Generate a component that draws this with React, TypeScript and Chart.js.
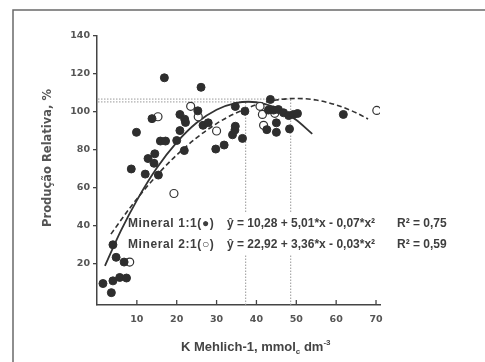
import React, { useEffect, useRef } from "react";
import { Chart, registerables } from "chart.js";

Chart.register(...registerables);

// Axis ticks
const xTickValues = [10, 20, 30, 40, 50, 60, 70];
const yTickValues = [20, 40, 60, 80, 100, 120, 140];

// Mineral 1:1 (filled circles)
const mineral11X = [1.5, 3.6, 4.0, 5.7, 7.4, 4.0, 4.8, 6.8, 8.6, 9.9, 12.1, 15.4, 12.8, 14.5, 14.3, 13.8, 16.9, 15.9, 17.2, 20.0, 21.9, 20.8, 20.8, 22.0, 22.2, 25.3, 26.1, 26.6, 27.9, 29.8, 31.9, 34.0, 34.6, 34.7, 36.5, 34.7, 37.1, 43.5, 43.0, 44.3, 45.5, 46.8, 48.1, 49.3, 50.3, 45.0, 45.0, 42.6, 48.3, 61.8];
const mineral11Y = [9.7, 4.9, 11.1, 12.9, 12.6, 30.1, 23.5, 21.0, 70.0, 89.3, 67.3, 66.8, 75.5, 78.0, 73.0, 96.5, 118.0, 84.7, 84.7, 85.0, 79.7, 90.2, 98.7, 96.2, 94.5, 100.6, 113.0, 93.0, 94.3, 80.5, 82.6, 88.0, 90.5, 92.5, 86.1, 102.9, 100.4, 106.6, 101.0, 101.0, 101.3, 99.6, 98.1, 98.7, 99.2, 94.3, 89.3, 90.7, 91.1, 98.7];

// Mineral 2:1 (open circles)
const mineral21X = [8.2, 15.3, 19.3, 23.5, 25.4, 30.0, 40.9, 41.5, 41.8, 44.6, 70.2];
const mineral21Y = [21.0, 97.5, 57.1, 103.0, 97.5, 90.0, 103.0, 98.7, 93.0, 99.3, 100.8];

// Fitted curves
const fitSolidX = [2, 6, 10, 15, 20, 25, 30, 35, 38, 42, 46, 50, 54];
const fitSolidY = [19.0, 37.5, 53.5, 70.5, 84.0, 94.3, 101.2, 104.8, 105.4, 104.3, 101.1, 95.8, 88.5];
const fitDashX = [3.5, 8, 12, 20, 30, 40, 45, 50, 55, 60, 65, 68];
const fitDashY = [35.7, 48.8, 59.4, 77.4, 93.9, 103.8, 106.3, 107.1, 106.3, 103.7, 99.6, 96.3];

// Dotted reference lines (optimum K and yield)
const refX = [37.3, 48.6];
const refY = [105.3, 106.8];

const eqLine1 = ["Mineral 1:1(\u25CF)", "\u0177 = 10,28 + 5,01*x - 0,07*x\u00B2", "R\u00B2 = 0,75"];
const eqLine2 = ["Mineral 2:1(\u25CB)", "\u0177 = 22,92 + 3,36*x - 0,03*x\u00B2", "R\u00B2 = 0,59"];

const toPoints = (xs: number[], ys: number[]) => xs.map((v, i) => ({ x: v, y: ys[i] }));

const decorPlugin = {
  id: "decor",
  beforeDatasetsDraw(chart: any) {
    const { ctx, scales } = chart;
    const x = scales.x;
    const y = scales.y;
    ctx.save();
    ctx.strokeStyle = "#999";
    ctx.lineWidth = 1;
    ctx.setLineDash([1.5, 1.5]);
    refX.forEach((vx, i) => {
      const px = x.getPixelForValue(vx);
      const py = y.getPixelForValue(refY[i]);
      ctx.beginPath();
      ctx.moveTo(px, y.bottom);
      ctx.lineTo(px, py);
      ctx.stroke();
      ctx.beginPath();
      ctx.moveTo(x.left + 1, py);
      ctx.lineTo(px, py);
      ctx.stroke();
    });
    ctx.setLineDash([]);
    ctx.fillStyle = "#ffffff";
    ctx.fillRect(128, 212, 330, 42);
    ctx.restore();
  },
  afterDatasetsDraw(chart: any) {
    const { ctx, scales } = chart;
    const x = scales.x;
    const y = scales.y;
    ctx.save();
    // inside tick marks on x axis
    ctx.strokeStyle = "#444";
    ctx.lineWidth = 1.3;
    xTickValues.forEach((v) => {
      const px = x.getPixelForValue(v);
      ctx.beginPath();
      ctx.moveTo(px, y.bottom);
      ctx.lineTo(px, y.bottom - 5);
      ctx.stroke();
    });
    // equations
    ctx.fillStyle = "#3e3e3e";
    ctx.font = "bold 12px 'Liberation Sans', Arial, sans-serif";
    ctx.textBaseline = "middle";
    ctx.textAlign = "left";
    const cols = [128, 227, 397];
    [eqLine1, eqLine2].forEach((line, li) => {
      const py = li === 0 ? 224 : 245;
      line.forEach((t, ci) => {
        (ctx as any).letterSpacing = ci === 0 ? "0.6px" : "0px";
        ctx.fillText(t, cols[ci], py);
      });
    });
    (ctx as any).letterSpacing = "0px";
    ctx.restore();
  },
  afterDraw(chart: any) {
    const { ctx } = chart;
    ctx.save();
    // page frame
    ctx.strokeStyle = "#6a6a6a";
    ctx.lineWidth = 1.5;
    ctx.beginPath();
    ctx.moveTo(13, 362);
    ctx.lineTo(13, 10);
    ctx.lineTo(485, 10);
    ctx.stroke();
    // y title
    ctx.fillStyle = "#555";
    ctx.font = "bold 11.5px 'DejaVu Sans', sans-serif";
    ctx.textAlign = "center";
    ctx.textBaseline = "middle";
    ctx.translate(48, 158);
    ctx.rotate(-Math.PI / 2);
    ctx.fillText("Produ\u00E7\u00E3o Relativa, %", 0, 0);
    ctx.restore();
    // x title with subscript / superscript
    ctx.save();
    ctx.fillStyle = "#444";
    ctx.textBaseline = "alphabetic";
    ctx.textAlign = "left";
    const big = "bold 13px 'Liberation Sans', Arial, sans-serif";
    const small = "bold 8px 'Liberation Sans', Arial, sans-serif";
    const base = 351;
    let cx = 181;
    const parts: [string, string, number][] = [
      ["K Mehlich-1, mmol", big, 0],
      ["c", small, 3],
      [" dm", big, 0],
      ["-3", small, -6],
    ];
    parts.forEach(([t, f, dy]) => {
      ctx.font = f;
      ctx.fillText(t, cx, base + dy);
      cx += ctx.measureText(t).width;
    });
    ctx.restore();
  },
};

export default function App() {
  const ref = useRef<HTMLCanvasElement | null>(null);
  useEffect(() => {
    if (!ref.current) return;
    const tickFont = { family: "'DejaVu Sans', sans-serif", size: 9.5, weight: "bold" as const };
    const chart = new Chart(ref.current, {
      type: "scatter",
      data: {
        datasets: [
          {
            label: "Mineral 1:1",
            data: toPoints(mineral11X, mineral11Y),
            pointRadius: 4,
            pointBackgroundColor: "#2e2e2e",
            pointBorderColor: "#2e2e2e",
            pointBorderWidth: 1,
            showLine: false,
            order: 0,
          },
          {
            label: "Mineral 2:1",
            data: toPoints(mineral21X, mineral21Y),
            pointRadius: 4,
            pointBackgroundColor: "#ffffff",
            pointBorderColor: "#333",
            pointBorderWidth: 1.2,
            showLine: false,
            order: 0,
          },
          {
            label: "Ajuste 1:1",
            data: toPoints(fitSolidX, fitSolidY),
            showLine: true,
            pointRadius: 0,
            borderColor: "#333",
            borderWidth: 1.8,
            cubicInterpolationMode: "monotone",
            fill: false,
            order: 1,
          },
          {
            label: "Ajuste 2:1",
            data: toPoints(fitDashX, fitDashY),
            showLine: true,
            pointRadius: 0,
            borderColor: "#333",
            borderWidth: 1.6,
            borderDash: [5, 3],
            cubicInterpolationMode: "monotone",
            fill: false,
            order: 1,
          },
        ],
      },
      options: {
        responsive: false,
        animation: false,
        events: [],
        layout: { padding: { left: 0, right: 105, top: 36, bottom: 0 } },
        plugins: { legend: { display: false }, tooltip: { enabled: false } },
        scales: {
          x: {
            type: "linear",
            min: 0,
            max: 71,
            afterBuildTicks: (s: any) => {
              s.ticks = xTickValues.map((v) => ({ value: v }));
            },
            afterFit: (s: any) => {
              s.height = 57;
            },
            grid: { display: false, drawTicks: false },
            border: { display: true, color: "#444", width: 1.5 },
            ticks: { color: "#555", font: tickFont, padding: 9, maxRotation: 0 },
          },
          y: {
            type: "linear",
            min: -1.6,
            max: 140,
            afterBuildTicks: (s: any) => {
              s.ticks = yTickValues.map((v) => ({ value: v }));
            },
            afterFit: (s: any) => {
              s.width = 97;
            },
            grid: { display: true, drawOnChartArea: false, drawTicks: true, tickLength: 4, color: "#444", lineWidth: 1.3 },
            border: { display: true, color: "#444", width: 1.5 },
            ticks: { color: "#555", font: tickFont, padding: 3 },
          },
        },
      },
      plugins: [decorPlugin],
    });
    return () => chart.destroy();
  }, []);
  return (
    <div style={{ position: "absolute", left: 0, top: 0, width: 485, height: 362, background: "#fff" }}>
      <canvas ref={ref} width={485} height={362} style={{ display: "block", width: 485, height: 362 }} />
    </div>
  );
}
